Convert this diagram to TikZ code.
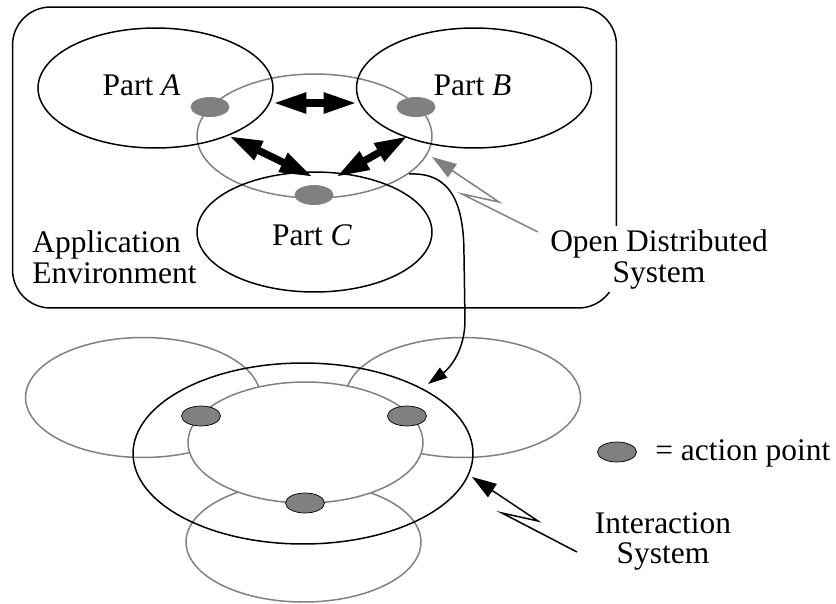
\documentclass[tikz,border=0pt]{standalone}
\usepackage{fontspec}
\setmainfont{Liberation Serif}
\usetikzlibrary{arrows.meta,shapes.geometric}

\begin{document}
\begin{tikzpicture}[
      x=0.02cm, y=-0.02cm,
      font=\fontsize{17.9}{17.3}\selectfont,
      part/.style={
         ellipse,
         draw=black,
         line width=0.85pt,
         inner sep=0pt,
         minimum width=4.7cm,
         minimum height=2.4cm},
      ghost/.style={
         part,
         draw=gray},
      apoint/.style={
         ellipse,
         fill=gray,
         inner sep=0pt,
         minimum width=0.78cm,
         minimum height=0.4cm},
      mytext/.style={
         inner sep=0pt,
         anchor=base},
      dblarrow/.style={
         arrows={Triangle[length=19pt,width=11pt]-Triangle[length=19pt,width=11pt]},
         line width=4.2pt},
      pointer/.style={-{Triangle[length=14pt,width=9pt]}, line width=0.85pt}
      ]
      \useasboundingbox (0,0) rectangle (836,603);
      % application environment
      \node[draw, line width=0.85pt, rounded corners=0.76cm, inner sep=0pt,
         minimum width=12.08cm, minimum height=6.02cm] (env) at (314.5,157.5) {};
      \node[ghost, minimum height=2.48cm] (ods) at (314.5,136) {};
      \node[part] (pa) at (155.5,88) {};
      \node[part] (pb) at (474,88) {};
      \node[part] (pc) at (314.5,232) {};
      \node[apoint] (apa) at (210,107) {};
      \node[apoint] (apb) at (416,107) {};
      \node[apoint] (apc) at (314,195) {};
      \node[mytext] (ta) at (141.5,95) {Part \textit{A}};
      \node[mytext] (tb) at (472.5,95) {Part \textit{B}};
      \node[mytext] (tc) at (312,245) {Part \textit{C}};
      \node[mytext, anchor=base west, align=left] (appenv) at (32,283) {Application\\Environment};
      \node[mytext, align=center, fill=white, inner sep=2pt] (odstext) at (659,282) {Open Distributed\\System};
      \coordinate (h1) at (273,103);
      \coordinate (h2) at (357,103);
      \coordinate (l1) at (229,136);
      \coordinate (l2) at (313,177);
      \coordinate (r1) at (336,177);
      \coordinate (r2) at (408,136);
      \foreach \i/\j in {h1/h2, l1/l2, r1/r2}% start/end
         \draw [dblarrow] (\i) -- (\j);
      \coordinate (odsfoot) at (538,232);
      \coordinate (odstip) at (432,157);
      \draw [pointer, gray] (odsfoot) -- (462,194) -- (499,202) -- (odstip);
      % interaction system
      \node[ghost] (gl) at (143,397.5) {};
      \node[ghost] (gr) at (463,397.5) {};
      \node[ghost] (gb) at (303.5,542) {};
      \node[ghost, fill=white, minimum height=2.42cm] (inner) at (305.5,442.5) {};
      \node[part, minimum width=6.8cm, minimum height=3.62cm] (sys) at (303,453.5) {};
      \node[apoint, draw=black] (ap1) at (201,416) {};
      \node[apoint, draw=black] (ap2) at (407,416) {};
      \node[apoint, draw=black] (ap3) at (305,503) {};
      \node[apoint, draw=black] (key) at (617,452) {};
      \node[mytext, anchor=base west] (keytext) at (655,460) {= action point};
      \node[mytext, align=center, font=\fontsize{17.9}{17}\selectfont] (istext) at (663,563) {Interaction\\System};
      \coordinate (isfoot) at (577,552);
      \coordinate (istip) at (472,477);
      \draw [pointer] (isfoot) -- (502,513) -- (538,521) -- (istip);
      \coordinate (from) at (409,174);
      \coordinate (to) at (428,384);
      \draw [-{Triangle[length=11pt,width=7pt]}, line width=0.85pt] (from)
         .. controls (452,172) and (464,205) .. (464,255) -- (465,320)
         .. controls (465,350) and (450,368) .. (to);
\end{tikzpicture}
\end{document}
